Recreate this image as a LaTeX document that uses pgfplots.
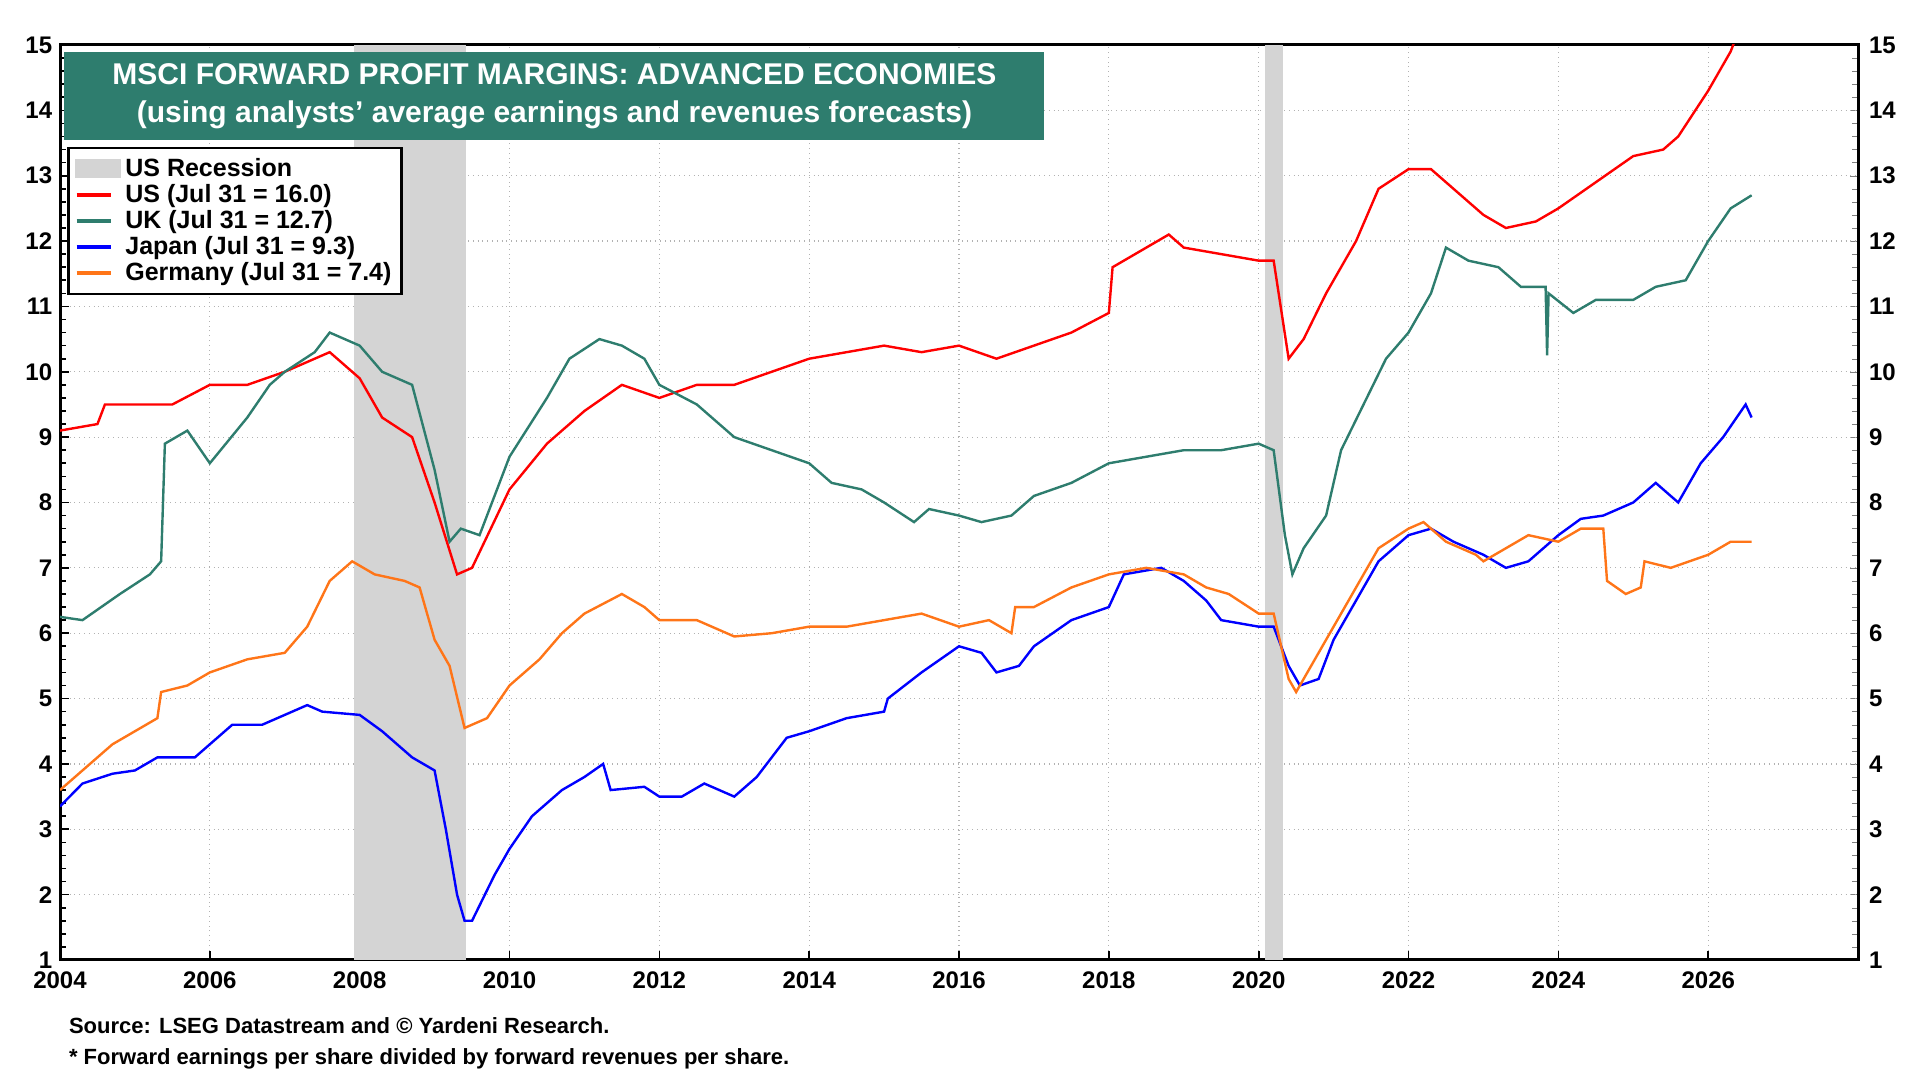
\documentclass[border=0pt]{standalone}
\usepackage{pgfplots}
\pgfplotsset{compat=1.18}
\usepackage{fontspec}
\setmainfont{Liberation Sans}
\definecolor{ukc}{HTML}{2E7D6E}
\definecolor{gec}{HTML}{FF7518}
\definecolor{recc}{HTML}{D4D4D4}
\begin{document}
\begin{tikzpicture}
\useasboundingbox (-30pt,-60pt) rectangle (930pt,480pt);
\pgfplotsset{every axis/.style={scale only axis,width=899pt,height=457.5pt,xmin=2004,xmax=2028,ymin=1,ymax=15,
 tick label style={font=\fontsize{12}{12}\selectfont\bfseries},/pgf/number format/assume math mode=true}}
\begin{axis}[axis y line*=right, axis x line=none, ytick={1,...,15}, minor y tick num=4, yticklabel style={xshift=2pt}]
\addplot[draw=none] coordinates {(2004,1)};
\end{axis}
\begin{axis}[line width=1.2pt, axis line style={line width=1.5pt},
 xtick={2004,2006,...,2026}, minor x tick num=1, ytick={1,...,15}, minor y tick num=4,
 /pgf/number format/1000 sep={}, ytick pos=left, xtick pos=bottom, tick style={black,line width=0.8pt},
 xticklabel style={yshift=-2pt},
 grid=major, major grid style={dotted,gray!60,line width=0.6pt},
 legend style={at={(axis cs:2004.1,13.44)},anchor=north west,draw=black,line width=1.2pt,font=\fontsize{12.5}{14}\selectfont\bfseries,row sep=-1.5pt,inner sep=3pt},
 legend cell align=left, legend image post style={line width=2pt}]
\addlegendimage{legend image code/.code={\fill[recc] (0cm,-0.13cm) rectangle (0.75cm,0.13cm);}}
\addlegendentry{US Recession}
\fill[recc] (axis cs:2007.92,1) rectangle (axis cs:2009.42,15);
\fill[recc] (axis cs:2020.08,1) rectangle (axis cs:2020.33,15);
\fill[ukc] (axis cs:2004.05,14.9) rectangle (axis cs:2017.14,13.54);
\node[white,font=\fontsize{15}{19}\selectfont\bfseries,align=center] at (axis cs:2010.6,14.22) {MSCI FORWARD PROFIT MARGINS: ADVANCED ECONOMIES\\(using analysts’ average earnings and revenues forecasts)};
\addplot[red] coordinates {(2004,9.1)(2004.5,9.2)(2004.6,9.5)(2005,9.5)(2005.5,9.5)(2006,9.8)(2006.5,9.8)(2007,10.0)(2007.6,10.3)(2008,9.9)(2008.3,9.3)(2008.7,9.0)(2009,8.0)(2009.3,6.9)(2009.5,7.0)(2010,8.2)(2010.5,8.9)(2011,9.4)(2011.5,9.8)(2012,9.6)(2012.5,9.8)(2013,9.8)(2013.5,10.0)(2014,10.2)(2014.5,10.3)(2015,10.4)(2015.5,10.3)(2016,10.4)(2016.5,10.2)(2017,10.4)(2017.5,10.6)(2018,10.9)(2018.05,11.6)(2018.5,11.9)(2018.8,12.1)(2019,11.9)(2019.5,11.8)(2020,11.7)(2020.2,11.7)(2020.4,10.2)(2020.6,10.5)(2020.9,11.2)(2021.3,12.0)(2021.6,12.8)(2022,13.1)(2022.3,13.1)(2022.6,12.8)(2023,12.4)(2023.3,12.2)(2023.7,12.3)(2024,12.5)(2024.5,12.9)(2025,13.3)(2025.4,13.4)(2025.6,13.6)(2026,14.3)(2026.3,14.9)(2026.4,15.2)(2026.58,16.0)};
\addlegendentry{US (Jul 31 = 16.0)}
\addplot[ukc] coordinates {(2004,6.25)(2004.3,6.2)(2004.8,6.6)(2005.2,6.9)(2005.35,7.1)(2005.4,8.9)(2005.7,9.1)(2006,8.6)(2006.5,9.3)(2006.8,9.8)(2007,10.0)(2007.4,10.3)(2007.6,10.6)(2008,10.4)(2008.3,10.0)(2008.7,9.8)(2009,8.5)(2009.2,7.4)(2009.35,7.6)(2009.6,7.5)(2010,8.7)(2010.5,9.6)(2010.8,10.2)(2011.2,10.5)(2011.5,10.4)(2011.8,10.2)(2012,9.8)(2012.5,9.5)(2013,9.0)(2013.5,8.8)(2014,8.6)(2014.3,8.3)(2014.7,8.2)(2015,8.0)(2015.4,7.7)(2015.6,7.9)(2016,7.8)(2016.3,7.7)(2016.7,7.8)(2017,8.1)(2017.5,8.3)(2018,8.6)(2018.5,8.7)(2019,8.8)(2019.5,8.8)(2020,8.9)(2020.2,8.8)(2020.35,7.5)(2020.45,6.9)(2020.6,7.3)(2020.9,7.8)(2021.1,8.8)(2021.4,9.5)(2021.7,10.2)(2022,10.6)(2022.3,11.2)(2022.5,11.9)(2022.8,11.7)(2023.2,11.6)(2023.5,11.3)(2023.83,11.3)(2023.85,10.25)(2023.87,11.2)(2024.2,10.9)(2024.5,11.1)(2025,11.1)(2025.3,11.3)(2025.7,11.4)(2026,12.0)(2026.3,12.5)(2026.58,12.7)};
\addlegendentry{UK (Jul 31 = 12.7)}
\addplot[blue] coordinates {(2004,3.35)(2004.3,3.7)(2004.7,3.85)(2005,3.9)(2005.3,4.1)(2005.8,4.1)(2006,4.3)(2006.3,4.6)(2006.7,4.6)(2007,4.75)(2007.3,4.9)(2007.5,4.8)(2008,4.75)(2008.3,4.5)(2008.7,4.1)(2009,3.9)(2009.15,3.0)(2009.3,2.0)(2009.4,1.6)(2009.5,1.6)(2009.8,2.3)(2010,2.7)(2010.3,3.2)(2010.7,3.6)(2011,3.8)(2011.25,4.0)(2011.35,3.6)(2011.8,3.65)(2012,3.5)(2012.3,3.5)(2012.6,3.7)(2013,3.5)(2013.3,3.8)(2013.7,4.4)(2014,4.5)(2014.5,4.7)(2015,4.8)(2015.05,5.0)(2015.5,5.4)(2016,5.8)(2016.3,5.7)(2016.5,5.4)(2016.8,5.5)(2017,5.8)(2017.5,6.2)(2018,6.4)(2018.2,6.9)(2018.7,7.0)(2019,6.8)(2019.3,6.5)(2019.5,6.2)(2020,6.1)(2020.2,6.1)(2020.4,5.5)(2020.55,5.2)(2020.8,5.3)(2021,5.9)(2021.3,6.5)(2021.6,7.1)(2022,7.5)(2022.3,7.6)(2022.6,7.4)(2023,7.2)(2023.3,7.0)(2023.6,7.1)(2024,7.5)(2024.3,7.75)(2024.6,7.8)(2025,8.0)(2025.3,8.3)(2025.6,8.0)(2025.9,8.6)(2026.2,9.0)(2026.5,9.5)(2026.58,9.3)};
\addlegendentry{Japan (Jul 31 = 9.3)}
\addplot[gec] coordinates {(2004,3.6)(2004.3,3.9)(2004.7,4.3)(2005,4.5)(2005.3,4.7)(2005.35,5.1)(2005.7,5.2)(2006,5.4)(2006.5,5.6)(2007,5.7)(2007.3,6.1)(2007.6,6.8)(2007.9,7.1)(2008.2,6.9)(2008.6,6.8)(2008.8,6.7)(2009,5.9)(2009.2,5.5)(2009.4,4.55)(2009.7,4.7)(2010,5.2)(2010.4,5.6)(2010.7,6.0)(2011,6.3)(2011.5,6.6)(2011.8,6.4)(2012,6.2)(2012.5,6.2)(2013,5.95)(2013.5,6.0)(2014,6.1)(2014.5,6.1)(2015,6.2)(2015.5,6.3)(2016,6.1)(2016.4,6.2)(2016.7,6.0)(2016.75,6.4)(2017,6.4)(2017.5,6.7)(2018,6.9)(2018.5,7.0)(2019,6.9)(2019.3,6.7)(2019.6,6.6)(2020,6.3)(2020.2,6.3)(2020.4,5.3)(2020.5,5.1)(2020.7,5.5)(2021,6.1)(2021.3,6.7)(2021.6,7.3)(2022,7.6)(2022.2,7.7)(2022.5,7.4)(2022.9,7.2)(2023,7.1)(2023.3,7.3)(2023.6,7.5)(2024,7.4)(2024.3,7.6)(2024.6,7.6)(2024.65,6.8)(2024.9,6.6)(2025.1,6.7)(2025.15,7.1)(2025.5,7.0)(2026,7.2)(2026.3,7.4)(2026.58,7.4)};
\addlegendentry{Germany (Jul 31 = 7.4)}
\end{axis}
\node[anchor=west,font=\fontsize{11}{11}\selectfont\bfseries] at (1pt,-33pt) {Source: LSEG Datastream and © Yardeni Research.};
\node[anchor=west,font=\fontsize{11}{11}\selectfont\bfseries] at (1pt,-49.5pt) {* Forward earnings per share divided by forward revenues per share.};
\end{tikzpicture}
\end{document}
